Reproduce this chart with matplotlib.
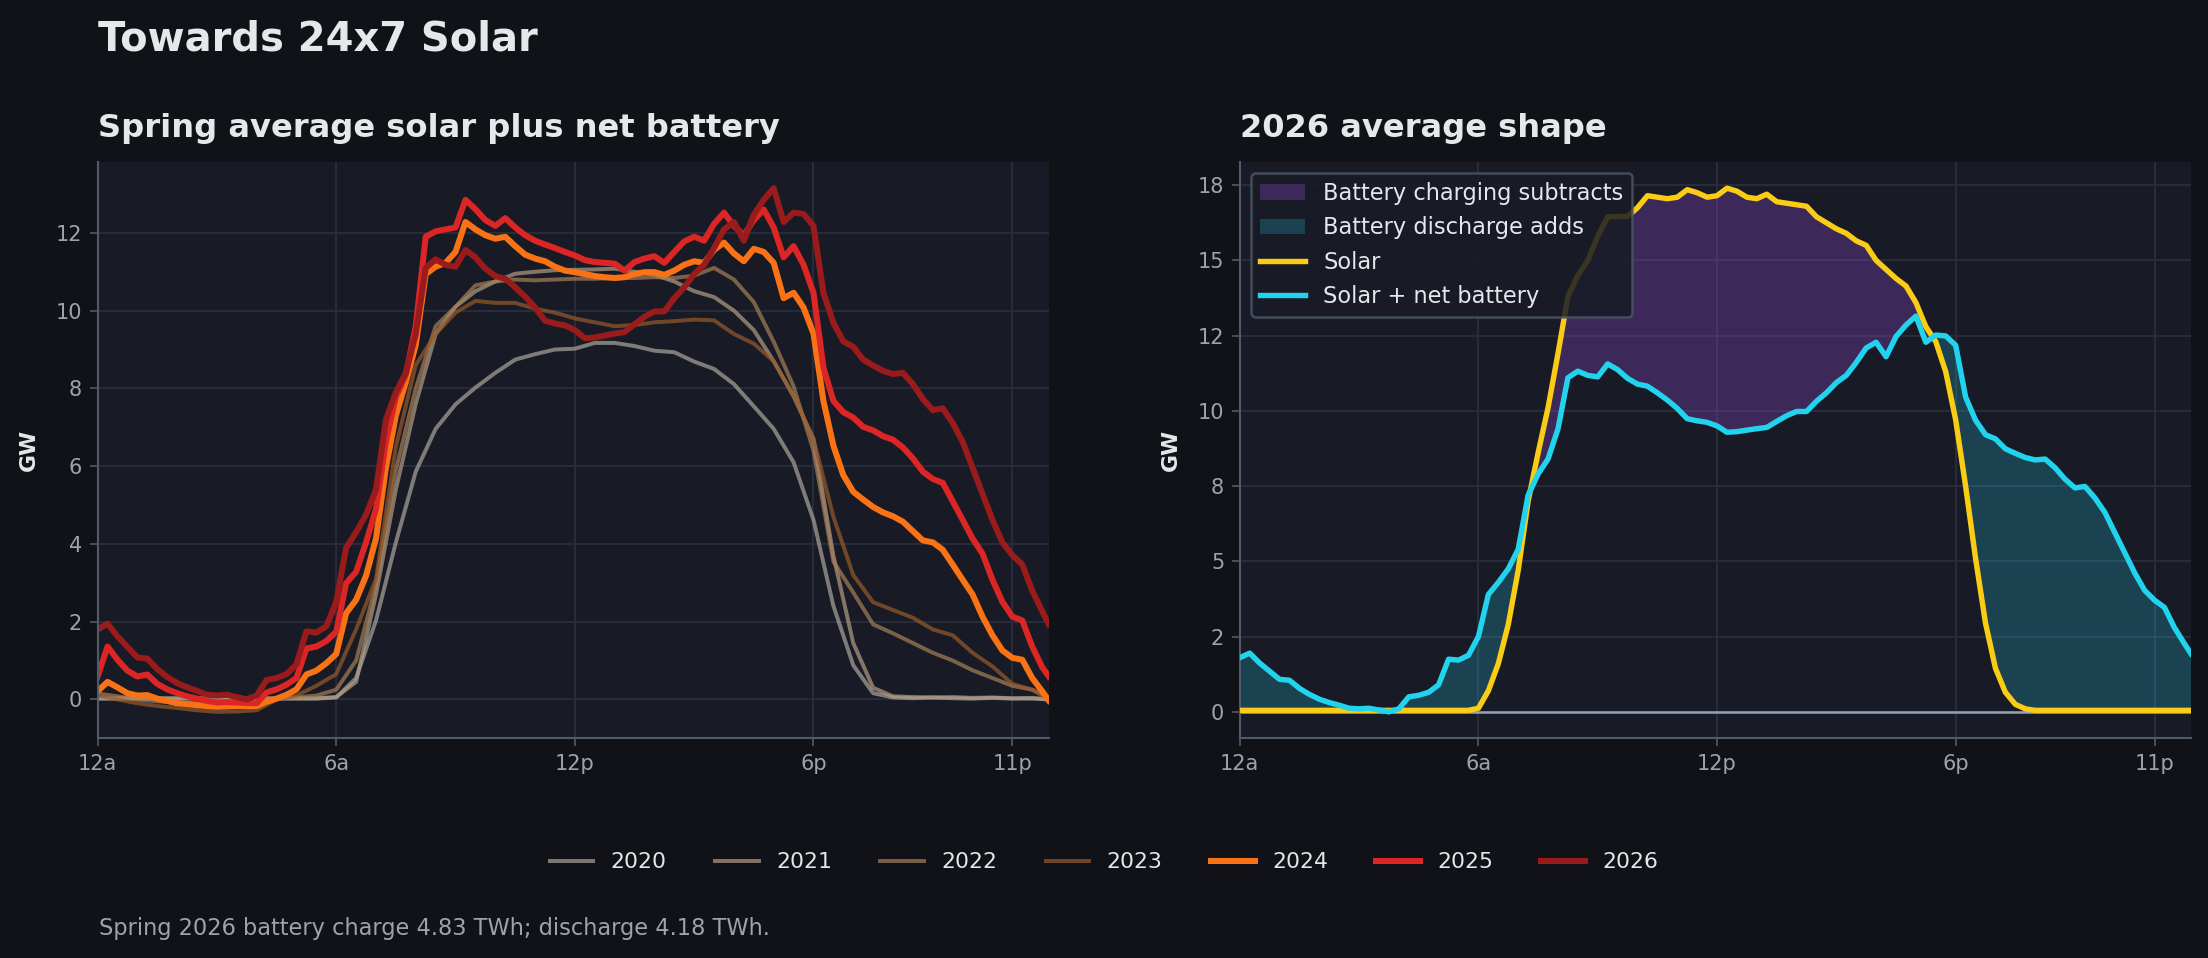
import numpy as np
import matplotlib
matplotlib.use('Agg')
import matplotlib.pyplot as plt
from matplotlib.ticker import FixedLocator, StrMethodFormatter

# ---- data (GW, spring average by hour of day) ----
hours_q = np.append(np.arange(0, 24, 0.25), 23.917)
hours_h = np.append(np.arange(0, 24, 0.5), 23.917)

y2020 = [0.02] * 12 + [0.05, 0.55, 2.03, 4.04, 5.86, 6.96, 7.59, 8.02, 8.4, 8.74, 8.88, 9.0,
         9.02, 9.17, 9.17, 9.09, 8.97, 8.93, 8.69, 8.5, 8.11, 7.54, 6.96, 6.1, 4.62, 2.41,
         0.88, 0.16, 0.05, 0.03, 0.05, 0.03, 0.02, 0.04, 0.02, 0.02, 0.0]
y2021 = [0.03] * 12 + [0.06, 0.45, 2.7, 5.4, 7.6, 9.4, 10.1, 10.5, 10.75, 10.95, 11.0, 11.04,
         11.05, 11.06, 11.08, 11.0, 10.92, 10.75, 10.5, 10.35, 10.0, 9.5, 8.7, 7.8, 6.7, 3.7,
         1.45, 0.3, 0.08, 0.06, 0.05, 0.06, 0.04, 0.05, 0.03, 0.04, 0.0]
y2022 = [0.15, 0.08, 0.0, -0.05, -0.08, -0.1, -0.1, -0.08, -0.05, 0.02, 0.05, 0.1,
         0.25, 1.0, 2.95, 5.9, 8.0, 9.6, 10.1, 10.65, 10.75, 10.8, 10.78, 10.8,
         10.82, 10.82, 10.84, 10.84, 10.86, 10.84, 10.9, 11.1, 10.8, 10.22, 9.2, 8.05,
         6.4, 3.55, 2.75, 1.93, 1.7, 1.45, 1.2, 1.0, 0.75, 0.55, 0.35, 0.25, 0.05]
y2023 = [0.1, 0.0, -0.1, -0.17, -0.22, -0.28, -0.32, -0.31, -0.28, 0.0, 0.1, 0.35,
         0.65, 1.8, 3.1, 6.5, 8.6, 9.4, 9.95, 10.25, 10.2, 10.2, 10.05, 9.95,
         9.8, 9.7, 9.6, 9.63, 9.7, 9.73, 9.77, 9.75, 9.4, 9.15, 8.7, 7.8,
         6.7, 4.7, 3.2, 2.5, 2.3, 2.1, 1.8, 1.65, 1.2, 0.85, 0.4, 0.25, 0.0]
y2024 = [0.21, 0.45, 0.31, 0.16, 0.1, 0.11, 0.02, -0.04, -0.1, -0.12, -0.15, -0.17,
         -0.19, -0.18, -0.17, -0.17, -0.17, -0.06, 0.02, 0.12, 0.26, 0.64, 0.74, 0.93,
         1.17, 2.22, 2.56, 3.18, 4.14, 5.96, 7.3, 8.16, 9.12, 10.94, 11.13, 11.23,
         11.51, 12.28, 12.09, 11.94, 11.85, 11.9, 11.66, 11.44, 11.34, 11.27, 11.13, 11.03,
         10.99, 10.94, 10.89, 10.86, 10.84, 10.86, 10.94, 10.99, 10.99, 10.92, 11.03, 11.18,
         11.27, 11.23, 11.56, 11.75, 11.47, 11.27, 11.59, 11.51, 11.23, 10.32, 10.46, 10.08,
         9.41, 7.68, 6.53, 5.77, 5.34, 5.14, 4.95, 4.81, 4.71, 4.57, 4.33, 4.09,
         4.04, 3.85, 3.47, 3.08, 2.7, 2.13, 1.65, 1.26, 1.07, 1.02, 0.55, 0.21, -0.03]
y2025 = [0.59, 1.36, 1.02, 0.74, 0.59, 0.64, 0.4, 0.26, 0.16, 0.08, 0.02, -0.04,
         -0.08, -0.07, -0.08, -0.09, -0.1, 0.18, 0.26, 0.38, 0.55, 1.31, 1.36, 1.5,
         1.74, 2.99, 3.28, 4.04, 4.9, 6.63, 7.78, 8.35, 9.6, 11.9, 12.04, 12.09,
         12.14, 12.85, 12.61, 12.33, 12.18, 12.38, 12.14, 11.94, 11.8, 11.7, 11.61, 11.51,
         11.42, 11.3, 11.25, 11.23, 11.21, 11.03, 11.25, 11.34, 11.4, 11.23, 11.51, 11.78,
         11.9, 11.8, 12.23, 12.52, 12.18, 11.94, 12.33, 12.6, 12.14, 11.37, 11.66, 11.18,
         10.46, 8.54, 7.68, 7.39, 7.25, 7.01, 6.92, 6.77, 6.68, 6.48, 6.2, 5.86,
         5.67, 5.57, 5.1, 4.62, 4.14, 3.75, 3.08, 2.51, 2.13, 2.03, 1.36, 0.83, 0.59]
y2026 = [1.8, 1.95, 1.62, 1.35, 1.08, 1.05, 0.78, 0.58, 0.42, 0.31, 0.22, 0.12,
         0.1, 0.12, 0.06, 0.0, 0.1, 0.5, 0.55, 0.65, 0.9, 1.75, 1.72, 1.88,
         2.5, 3.9, 4.3, 4.75, 5.4, 7.2, 7.9, 8.4, 9.4, 11.1, 11.32, 11.18,
         11.13, 11.56, 11.37, 11.08, 10.89, 10.82, 10.6, 10.36, 10.08, 9.74, 9.67, 9.62,
         9.5, 9.29, 9.31, 9.36, 9.41, 9.45, 9.65, 9.84, 9.98, 9.98, 10.32, 10.6,
         10.94, 11.18, 11.61, 12.09, 12.28, 11.8, 12.47, 12.85, 13.15, 12.28, 12.52, 12.49,
         12.18, 10.46, 9.69, 9.21, 9.07, 8.74, 8.59, 8.45, 8.37, 8.4, 8.11, 7.73,
         7.44, 7.49, 7.11, 6.63, 5.96, 5.29, 4.62, 4.04, 3.71, 3.47, 2.8, 2.27, 1.93]
solar2026 = [0.05] * 24 + [0.12, 0.7, 1.6, 2.9, 4.7, 7.0, 8.6, 10.1, 11.9, 13.8, 14.5, 15.0,
             15.8, 16.45, 16.46, 16.46, 16.75, 17.15, 17.1, 17.05, 17.1, 17.35, 17.25, 17.1,
             17.15, 17.4, 17.3, 17.1, 17.05, 17.2, 16.95, 16.9, 16.85, 16.8, 16.45, 16.25,
             16.05, 15.9, 15.65, 15.5, 15.0, 14.7, 14.4, 14.15, 13.6, 12.8, 12.3, 11.3,
             9.7, 7.5, 5.1, 2.95, 1.45, 0.65, 0.25, 0.1] + [0.05] * 17

years = ['2020', '2021', '2022', '2023', '2024', '2025', '2026']
year_series = [y2020, y2021, y2022, y2023, y2024, y2025, y2026]
year_colors = ['#aba59d', '#b29e85', '#a78059', '#975b2c', '#f97316', '#dc2626', '#991b1b']

tick_hours = [0, 6, 12, 18, 23]
tick_labels = ['12a', '6a', '12p', '6p', '11p']

charge_twh = 4.83
discharge_twh = 4.18

# ---- style ----
BG = '#111217'
AX_BG = '#181a25'
GRID = '#2a2d3b'
SPINE = '#4f5a6b'
TICK = '#9ca3af'
TEXT = '#e5e7eb'

plt.rcParams['font.family'] = ['DejaVu Sans']

fig = plt.figure(figsize=(14.72, 6.3867), dpi=150, facecolor=BG)
ax1 = fig.add_axes([0.0442, 0.2296, 0.4308, 0.6013])
ax2 = fig.add_axes([0.5615, 0.2296, 0.4308, 0.6013])


def style_ax(ax):
    ax.set_facecolor(AX_BG)
    ax.grid(True, color=GRID, linewidth=0.9)
    ax.set_axisbelow(True)
    for s in ['top', 'right']:
        ax.spines[s].set_visible(False)
    for s in ['left', 'bottom']:
        ax.spines[s].set_color(SPINE)
        ax.spines[s].set_linewidth(1.0)
    ax.tick_params(colors=SPINE, labelcolor=TICK, labelsize=10, length=4)
    ax.set_xticks(tick_hours)
    ax.set_xticklabels(tick_labels)
    ax.set_xlim(0, 23.917)
    ax.set_ylabel('GW', color=TEXT, fontsize=10.5, fontweight='bold', labelpad=8)


# ---- left: all years ----
style_ax(ax1)
for i, (yr, vals, col) in enumerate(zip(years, year_series, year_colors)):
    x = hours_h if len(vals) == len(hours_h) else hours_q
    if i < 4:
        ax1.plot(x, vals, color=col, lw=1.9, alpha=0.7, label=yr)
    else:
        ax1.plot(x, vals, color=col, lw=2.9, label=yr)
ax1.set_title('Spring average solar plus net battery', loc='left', color=TEXT,
              fontsize=15.4, fontweight='bold', pad=12)

# ---- right: 2026 shape ----
style_ax(ax2)
solar = np.array(solar2026)
net = np.array(y2026)
ax2.axhline(0, color='#94a3b8', lw=1.2, zorder=2)
ax2.fill_between(hours_q, solar, net, where=solar >= net, interpolate=True,
                 color='#a855f7', alpha=0.25, lw=0, label='Battery charging subtracts')
ax2.fill_between(hours_q, solar, net, where=net > solar, interpolate=True,
                 color='#22d3ee', alpha=0.22, lw=0, label='Battery discharge adds')
ax2.plot(hours_q, solar, color='#facc15', lw=2.6, label='Solar', zorder=3)
ax2.plot(hours_q, net, color='#22d3ee', lw=2.6, label='Solar + net battery', zorder=4)
ax2.yaxis.set_major_locator(FixedLocator([0, 2.5, 5, 7.5, 10, 12.5, 15, 17.5]))
ax2.yaxis.set_major_formatter(StrMethodFormatter('{x:.0f}'))
ax2.set_title('2026 average shape', loc='left', color=TEXT,
              fontsize=15.4, fontweight='bold', pad=12)
leg2 = ax2.legend(loc='upper left', fontsize=10.8, facecolor=AX_BG, edgecolor='#4b5563',
                  framealpha=0.85, labelcolor=TEXT)
leg2.get_frame().set_linewidth(1.2)

# ---- figure text ----
fig.text(0.0442, 0.9468, 'Towards 24x7 Solar', color=TEXT, fontsize=19.2,
         fontweight='bold', va='baseline')

handles, labels = ax1.get_legend_handles_labels()
fig.legend(handles, labels, loc='center', bbox_to_anchor=(0.5, 0.1), ncol=7,
           frameon=False, fontsize=10.5, labelcolor=TEXT, columnspacing=2.2)

fig.text(0.0447, 0.024, f'Spring 2026 battery charge {charge_twh:.2f} TWh; discharge {discharge_twh:.2f} TWh.',
         color=TICK, fontsize=10.8, va='baseline')

fig.savefig('out.png', dpi=150, facecolor=BG)
